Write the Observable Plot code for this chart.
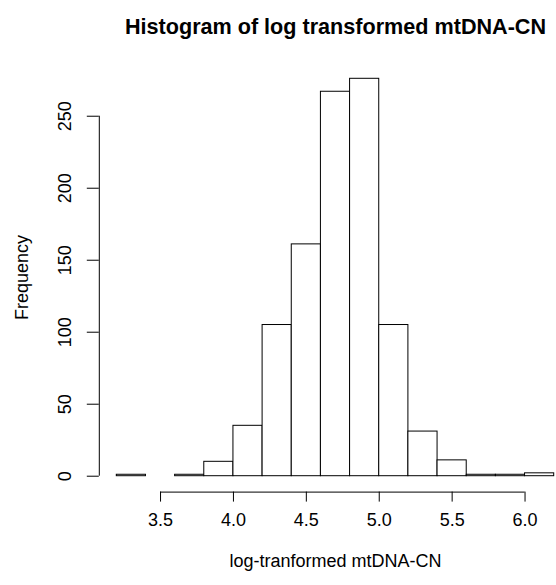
<!DOCTYPE html>
<html>
<head>
<meta charset="utf-8">
<script src="https://cdn.jsdelivr.net/npm/d3@7"></script>
<script src="https://cdn.jsdelivr.net/npm/@observablehq/plot@0.6"></script>
<style>
  html, body { margin: 0; padding: 0; background: #fff; overflow: hidden; }
  svg { display: block; }
</style>
</head>
<body>
<div id="chart"></div>
<script>
// ---- Data ----
const binEdges = [3.2, 3.4, 3.6, 3.8, 4.0, 4.2, 4.4, 4.6, 4.8, 5.0, 5.2, 5.4, 5.6, 5.8, 6.0, 6.2];
const counts   = [1, 0, 1, 10, 35, 105, 161, 267, 276, 105, 31, 11, 1, 1, 2];
const xTicks   = [3.5, 4.0, 4.5, 5.0, 5.5, 6.0];
const yTicks   = [0, 50, 100, 150, 200, 250];
const titleText = "Histogram of log transformed mtDNA-CN";
const xLabelText = "log-tranformed mtDNA-CN";
const yLabelText = "Frequency";

// ---- Build table ----
const bins = counts.map((c, i) => ({x1: binEdges[i], x2: binEdges[i + 1], count: c}));

// R-style 4% expansion of the plotting region
const xMin = binEdges[0], xMax = binEdges[binEdges.length - 1];
const xPad = 0.04 * (xMax - xMin);
const yMax = d3.max(counts);
const yPad = 0.04 * yMax;

const font = "'Liberation Sans', Arial, Helvetica, sans-serif";

const chart = Plot.plot({
  width: 556,
  height: 585,
  marginLeft: 98.8,
  marginRight: -15.2,
  marginTop: 62.4,
  marginBottom: 93.4,
  style: {fontFamily: font, fontSize: "18px", color: "#000", background: "#fff"},
  x: {domain: [xMin - xPad, xMax + xPad]},
  y: {domain: [-yPad, yMax + yPad]},
  marks: [
    Plot.rectY(bins, {x1: "x1", x2: "x2", y1: 0, y2: "count", fill: "white", stroke: "black", strokeWidth: 1}),
    // y axis
    Plot.ruleX([xMin - xPad], {y1: yTicks[0], y2: yTicks[yTicks.length - 1], stroke: "black"}),
    Plot.axisY({ticks: yTicks, tickSize: 12, tickFormat: () => "", label: null, stroke: "black"}),
    Plot.text(yTicks, {y: d => d, frameAnchor: "left", textAnchor: "middle", dx: -34, rotate: -90, text: d => String(d), fontSize: 18, fill: "black"}),
    // x axis
    Plot.ruleY([-yPad], {x1: xTicks[0], x2: xTicks[xTicks.length - 1], stroke: "black"}),
    Plot.axisX({ticks: xTicks, tickSize: 10, tickFormat: () => "", label: null, stroke: "black"}),
    Plot.text(xTicks, {x: d => d, frameAnchor: "bottom", textAnchor: "middle", dy: 34, text: d => d.toFixed(1), fontSize: 18, fill: "black"}),
    // titles
    Plot.text([titleText], {frameAnchor: "top", textAnchor: "middle", dy: -44.7, fontSize: 21.6, fontWeight: "bold", fill: "black"}),
    Plot.text([xLabelText], {frameAnchor: "bottom", textAnchor: "middle", dy: 75, fontSize: 18, fill: "black"}),
    Plot.text([yLabelText], {frameAnchor: "left", textAnchor: "middle", dx: -76.8, rotate: -90, fontSize: 18, fill: "black"})
  ]
});

document.getElementById("chart").appendChild(chart);
</script>
</body>
</html>
